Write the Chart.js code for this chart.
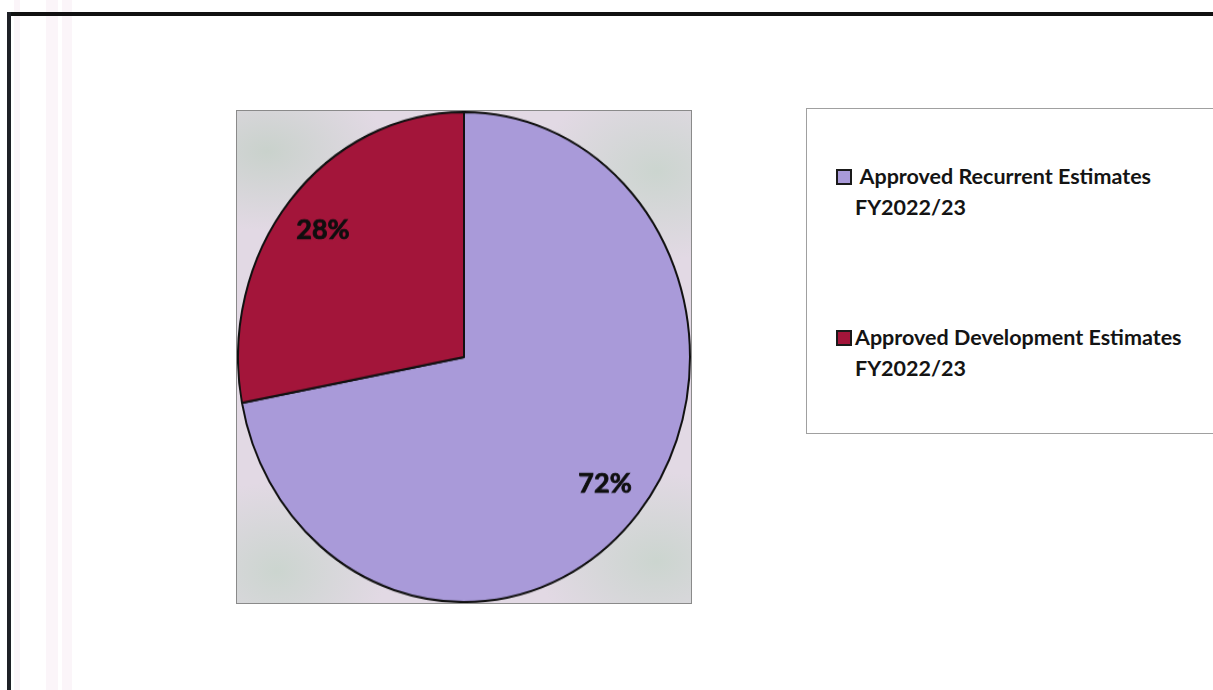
<!DOCTYPE html>
<html>
<head>
<meta charset="utf-8">
<script src="https://cdn.jsdelivr.net/npm/chart.js@4/dist/chart.umd.min.js"></script>
<style>
  html, body { margin: 0; padding: 0; background: #fff; }
  body { width: 1213px; height: 690px; position: relative; overflow: hidden; font-family: Lato, "Open Sans", sans-serif; }
  /* page frame of the scanned document */
  .frameTop { position: absolute; left: 7px; top: 12px; width: 1206px; height: 4px; background: #111; }
  .frameLeft { position: absolute; left: 7px; top: 12px; width: 4px; height: 678px; background: #1e2026; }
  .stripe { position: absolute; top: 0; height: 690px; background: #fbf5f9; }
  .plotBox {
    position: absolute; left: 236px; top: 110px; width: 454px; height: 492px;
    border: 1px solid #8a8a8a;
    background:
      radial-gradient(ellipse 120px 80px at 30px 40px, rgba(195,208,198,0.8), transparent),
      radial-gradient(ellipse 120px 90px at 420px 60px, rgba(198,212,202,0.8), transparent),
      radial-gradient(ellipse 110px 90px at 40px 460px, rgba(198,212,202,0.8), transparent),
      radial-gradient(ellipse 120px 90px at 420px 450px, rgba(198,212,202,0.8), transparent),
      #e2d9e4;
  }
  .pieWrap {
    position: absolute; left: 237px; top: 111px; width: 454px; height: 454px;
    transform: scale(1, 1.084); transform-origin: 0 0;
  }
  .legendBox {
    position: absolute; left: 806px; top: 108px; width: 410px; height: 324px;
    border: 1px solid #a0a0a0; background: #fff;
  }
  .legItem { position: absolute; left: 0; font-weight: 700; font-size: 21.5px; color: #141414; line-height: 31px; }
  .legItem .sw { position: absolute; left: 29px; top: 8px; width: 12px; height: 12px; border: 2px solid #1a1a1a; }
  .legItem .tx { position: absolute; left: 48px; white-space: nowrap; }
</style>
</head>
<body>
<div class="stripe" style="left:14px;width:6px"></div>
<div class="stripe" style="left:46px;width:12px"></div>
<div class="stripe" style="left:62px;width:10px"></div>
<div class="frameTop"></div>
<div class="frameLeft"></div>
<div class="plotBox"></div>
<div class="pieWrap"><canvas id="budgetPie"></canvas></div>
<div class="legendBox" id="legend"></div>
<script>
// Dữ liệu: tỷ trọng dự toán được phê duyệt FY2022/23
const categories = [
  ['Approved Recurrent Estimates', 'FY2022/23'],
  ['Approved Development Estimates', 'FY2022/23']
];
const shares = [72, 28];
const sliceColors = ['#a99ad9', '#a3153a'];

const yStretch = 1.084;

// Nhãn phần trăm trên từng lát
const percentLabels = {
  id: 'percentLabels',
  afterDatasetsDraw(chart) {
    const ctx = chart.ctx;
    const arcs = chart.getDatasetMeta(0).data;
    ctx.save();
    ctx.font = 'bold 27px Lato, "Open Sans", sans-serif';
    ctx.fillStyle = '#0e0e0e';
    ctx.textAlign = 'center';
    ctx.textBaseline = 'middle';
    arcs.forEach((arc, i) => {
      const p = arc.getProps(['x', 'y', 'startAngle', 'endAngle', 'outerRadius'], true);
      const mid = (p.startAngle + p.endAngle) / 2;
      const r = p.outerRadius * 0.81;
      const x = p.x + Math.cos(mid) * r;
      const y = p.y + Math.sin(mid) * r;
      ctx.save();
      ctx.translate(x, y);
      ctx.scale(1, 1 / yStretch);
      ctx.lineWidth = 0.8;
      ctx.strokeStyle = '#0e0e0e';
      ctx.strokeText(shares[i] + '%', 0, 0);
      ctx.fillText(shares[i] + '%', 0, 0);
      ctx.restore();
    });
    ctx.restore();
  }
};

const ctx = document.getElementById('budgetPie').getContext('2d');
const chart = new Chart(ctx, {
  type: 'pie',
  data: {
    labels: categories,
    datasets: [{
      data: shares,
      backgroundColor: sliceColors,
      borderColor: '#111',
      borderWidth: 2
    }]
  },
  options: {
    responsive: true,
    maintainAspectRatio: false,
    animation: false,
    layout: { padding: 0 },
    plugins: {
      legend: { display: false },
      tooltip: { enabled: false }
    }
  },
  plugins: [percentLabels]
});

// Chú giải HTML dựng từ dữ liệu của biểu đồ
const legendEl = document.getElementById('legend');
const itemTops = [52, 213];
chart.data.labels.forEach((lines, i) => {
  const item = document.createElement('div');
  item.className = 'legItem';
  item.style.top = itemTops[i] + 'px';
  const sw = document.createElement('div');
  sw.className = 'sw';
  sw.style.background = chart.data.datasets[0].backgroundColor[i];
  const tx = document.createElement('div');
  tx.className = 'tx';
  tx.innerHTML = lines.map((l, j) => (i === 0 && j === 0 ? '&nbsp;' : '') + l).join('<br>');
  item.appendChild(sw);
  item.appendChild(tx);
  legendEl.appendChild(item);
});
</script>
</body>
</html>
